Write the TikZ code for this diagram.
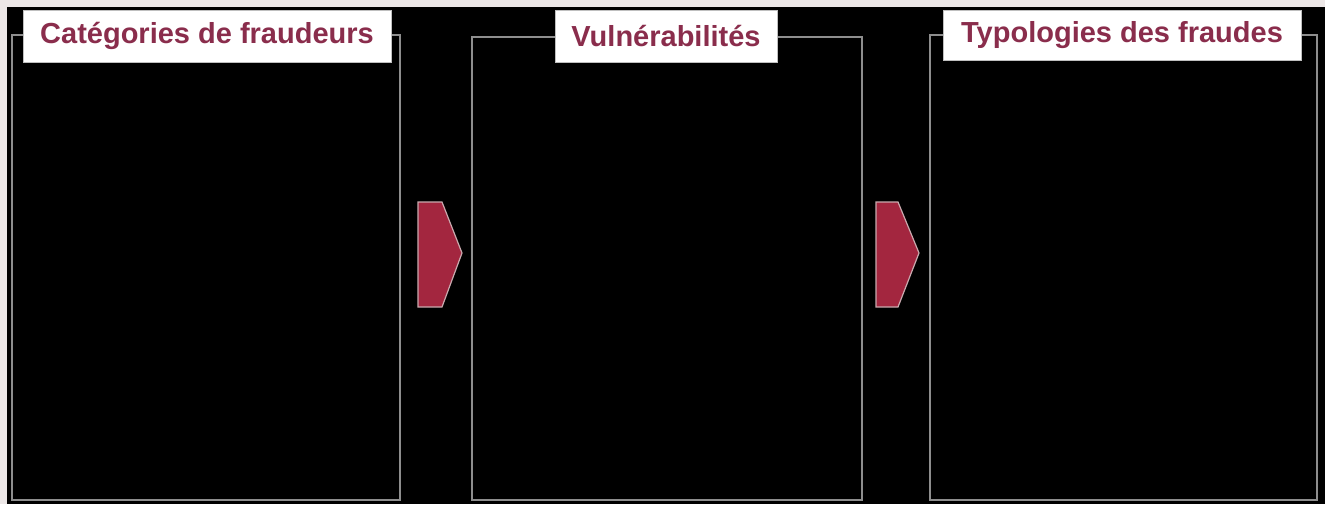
\documentclass[tikz,border=0pt]{standalone}
\usepackage{fontspec}
\setmainfont{Liberation Sans}
\definecolor{bgl}{HTML}{ECE7E7}
\definecolor{frame}{HTML}{8E8E8E}
\definecolor{titlered}{HTML}{8A2D4C}
\definecolor{arrowred}{HTML}{A3263F}
\definecolor{arrowedge}{HTML}{C9A9AE}
\begin{document}
\begin{tikzpicture}[x=1pt,y=-1pt,
  panel/.style={draw=frame,line width=2.4pt},
  titlebox/.style={fill=white,draw=gray!50,line width=0.6pt,inner sep=0pt,
    text=titlered,font=\fontsize{29}{31}\selectfont\bfseries,anchor=center},
  chev/.style={fill=arrowred,draw=arrowedge,line width=1.2pt,line join=miter}]
\useasboundingbox (0,0) rectangle (1325,504);
\fill[bgl] (0,0) rectangle (1325,504);
\fill[black] (7,7) rectangle (1325,504);
% panels
\draw[panel] (12,35) rectangle (400,500);
\draw[panel] (472,37) rectangle (862,500);
\draw[panel] (930,35) rectangle (1317,500);
% titles
\node[titlebox,minimum width=368pt,minimum height=52pt] (t1) at (207,36) {Catégories de fraudeurs};
\node[titlebox,minimum width=222pt,minimum height=52pt] (t2) at (666,36) {Vulnérabilités};
\node[titlebox,minimum width=358pt,minimum height=50pt] (t3) at (1122,35) {Typologies des fraudes};
% chevrons
\draw[chev] (418,202) -- (442,202) -- (462,253) -- (442,307) -- (418,307) -- cycle;
\draw[chev] (876,202) -- (898,202) -- (919,253) -- (898,307) -- (876,307) -- cycle;
\end{tikzpicture}
\end{document}
